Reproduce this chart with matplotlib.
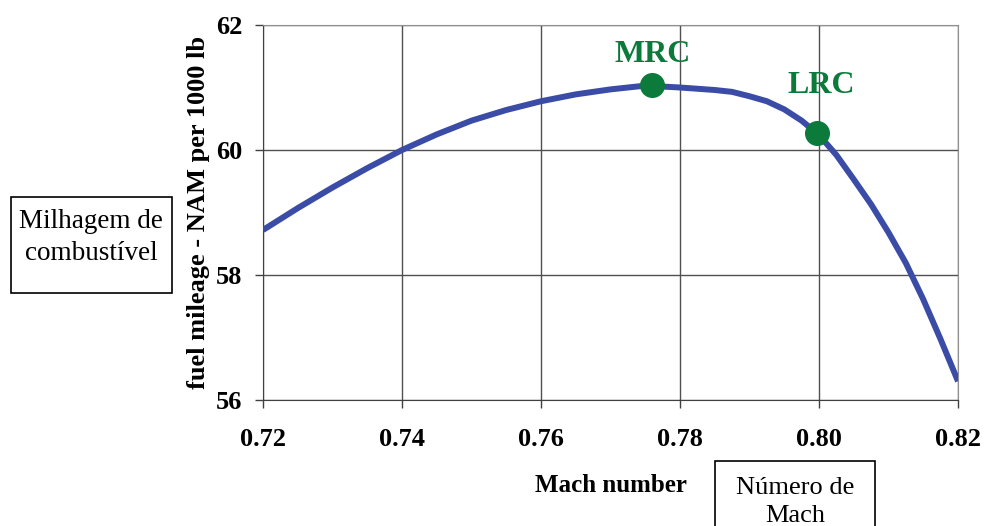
import matplotlib
matplotlib.use("Agg")
import matplotlib.pyplot as plt
from matplotlib.patches import Rectangle

# fuel mileage curve
mach = [0.720, 0.725, 0.730, 0.735, 0.740, 0.745, 0.750, 0.755, 0.760, 0.765,
        0.770, 0.775, 0.780, 0.785, 0.7875, 0.790, 0.7925, 0.795, 0.7975, 0.800,
        0.8025, 0.805, 0.8075, 0.810, 0.8125, 0.815, 0.8175, 0.820]
mileage = [58.72, 59.07, 59.40, 59.71, 60.00, 60.25, 60.47, 60.64, 60.78, 60.89,
           60.97, 61.03, 61.00, 60.96, 60.93, 60.86, 60.78, 60.65, 60.47, 60.24,
           59.92, 59.53, 59.13, 58.68, 58.19, 57.61, 56.97, 56.30]

point_names = ["MRC", "LRC"]
point_mach = [0.776, 0.7997]
point_mileage = [61.04, 60.27]

xticks = [0.72, 0.74, 0.76, 0.78, 0.80, 0.82]
xtick_labels = ["0.72", "0.74", "0.76", "0.78", "0.80", "0.82"]
yticks = [56, 58, 60, 62]

plt.rcParams["font.family"] = ["Liberation Serif", "DejaVu Serif"]

W, H = 984, 526
fig = plt.figure(figsize=(W / 100, H / 100), dpi=100)
ax = fig.add_axes([263 / W, 1 - 400 / H, 695 / W, 375 / H])

ax.plot(mach, mileage, color="#3a4ca6", lw=4.3, solid_joinstyle="round",
        solid_capstyle="butt", zorder=3)
ax.plot(point_mach, point_mileage, "o", color="#0b7a3b", ms=17, zorder=4)
label_offsets = [(0, 22), (3, 34)]
for name, mx, my, off in zip(point_names, point_mach, point_mileage, label_offsets):
    ax.annotate(name, (mx, my), xytext=off, textcoords="offset points",
                ha="center", va="center", fontsize=23, fontweight="bold",
                color="#0b7a3b", zorder=5)

ax.set_xlim(0.72, 0.82)
ax.set_ylim(56, 62)
ax.set_xticks(xticks)
ax.set_xticklabels(xtick_labels)
ax.set_yticks(yticks)
ax.grid(True, color="#505050", lw=1.0)
ax.tick_params(direction="out", length=6, width=1, color="#404040", labelsize=19)
ax.tick_params(axis="x", pad=14)
ax.tick_params(axis="y", pad=9)
for lab in ax.get_xticklabels() + ax.get_yticklabels():
    lab.set_fontweight("bold")
for side in ["left", "bottom"]:
    ax.spines[side].set_color("#404040")
for side in ["top", "right"]:
    ax.spines[side].set_color("#909090")

ax.set_xlabel("Mach number", fontsize=18, fontweight="bold", labelpad=17)
ax.set_ylabel("fuel mileage - NAM per 1000 lb", fontsize=19, fontweight="bold",
              labelpad=4)

# annotation boxes (Portuguese translations)
fig.patches.append(Rectangle((11 / W, 1 - 293 / H), 161 / W, 96 / H,
                             transform=fig.transFigure, fill=False,
                             edgecolor="black", lw=1.2))
fig.text(91 / W, 1 - 221 / H, "Milhagem de", ha="center", va="center", fontsize=19.5)
fig.text(91 / W, 1 - 253 / H, "combustível", ha="center", va="center", fontsize=19.5)

fig.patches.append(Rectangle((715 / W, 1 - 540 / H), 160 / W, 79 / H,
                             transform=fig.transFigure, fill=False,
                             edgecolor="black", lw=1.2))
fig.text(795 / W, 1 - 488 / H, "Número de", ha="center", va="center", fontsize=19)
fig.text(795 / W, 1 - 516 / H, "Mach", ha="center", va="center", fontsize=19)

fig.savefig("out.png", dpi=100)
